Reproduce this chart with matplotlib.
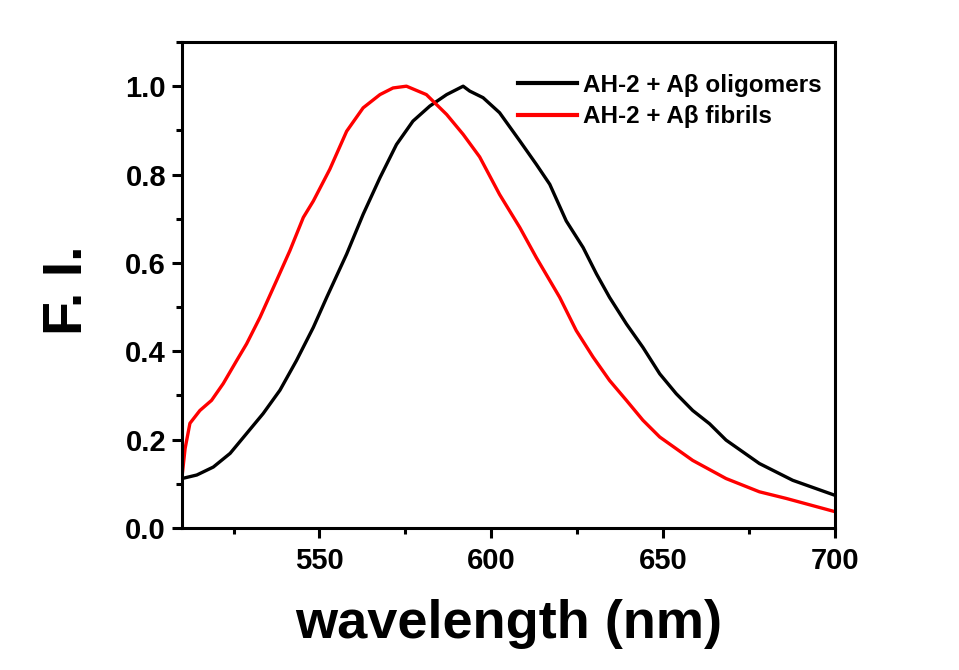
import matplotlib
matplotlib.use("Agg")
import matplotlib.pyplot as plt
from matplotlib.ticker import MultipleLocator, FormatStrFormatter

# spectra (wavelength nm, normalised intensity)
wl_olig = [510, 514.3, 519.1, 524, 528.8, 533.6, 538.5, 543.3, 548.2, 552.1, 557.9,
           562.7, 567.6, 572.4, 577.2, 582.1, 587, 591.8, 593.7, 597.6, 602.4, 608.3,
           613.1, 617, 621.8, 626.7, 630.6, 634.4, 639.3, 644.1, 649, 653.8, 658.6,
           663.5, 668.3, 678, 687.7, 700]
fi_olig = [0.112, 0.12, 0.138, 0.169, 0.214, 0.259, 0.312, 0.379, 0.454, 0.522, 0.62,
           0.71, 0.793, 0.868, 0.921, 0.955, 0.981, 1.0, 0.989, 0.974, 0.94, 0.876,
           0.823, 0.778, 0.695, 0.635, 0.575, 0.522, 0.462, 0.409, 0.349, 0.304, 0.266,
           0.236, 0.199, 0.146, 0.108, 0.074]

wl_fib = [510, 510.9, 512.3, 515.2, 518.6, 522, 525.9, 528.8, 532.7, 537.5, 541.4,
          545.3, 548.2, 553, 557.9, 562.7, 567.6, 571.4, 575.3, 581.1, 587, 591.8,
          596.6, 602.4, 608.3, 613.1, 619.9, 624.7, 629.6, 634.4, 639.3, 644.1, 649,
          658.6, 668.3, 678, 685.8, 700]
fi_fib = [0.116, 0.18, 0.237, 0.266, 0.289, 0.327, 0.379, 0.417, 0.477, 0.56, 0.628,
          0.703, 0.74, 0.812, 0.898, 0.951, 0.981, 0.996, 1.0, 0.981, 0.936, 0.891,
          0.84, 0.755, 0.68, 0.612, 0.522, 0.447, 0.387, 0.334, 0.289, 0.244, 0.206,
          0.153, 0.112, 0.082, 0.067, 0.037]

labels = ["AH-2 + A\u03b2 oligomers", "AH-2 + A\u03b2 fibrils"]

plt.rcParams['font.family'] = ['Liberation Sans', 'DejaVu Sans']
plt.rcParams['font.weight'] = 'bold'

fig = plt.figure(figsize=(9.59, 6.70), dpi=100)
ax = fig.add_axes([0.1898, 0.2119, 0.6809, 0.7254])

ax.plot(wl_olig, fi_olig, color='black', lw=2.4, label=labels[0], solid_joinstyle='round')
ax.plot(wl_fib, fi_fib, color='#ff0000', lw=2.4, label=labels[1], solid_joinstyle='round')

ax.set_xlim(510, 700)
ax.set_ylim(0, 1.1)
ax.xaxis.set_major_locator(MultipleLocator(50))
ax.xaxis.set_minor_locator(MultipleLocator(25))
ax.yaxis.set_major_locator(MultipleLocator(0.2))
ax.yaxis.set_minor_locator(MultipleLocator(0.1))
ax.yaxis.set_major_formatter(FormatStrFormatter('%.1f'))

for s in ax.spines.values():
    s.set_linewidth(2.2)
ax.tick_params(which='major', direction='out', length=7.5, width=2.2, labelsize=21)
ax.tick_params(which='minor', direction='out', length=4.5, width=2.2)
ax.tick_params(axis='x', pad=6)
ax.tick_params(axis='y', pad=4)
for t in ax.get_xticklabels() + ax.get_yticklabels():
    t.set_fontweight('bold')

ax.set_xlabel("wavelength (nm)", fontsize=39, fontweight='bold')
ax.set_ylabel("F. I.", fontsize=40, fontweight='bold')
ax.xaxis.set_label_coords(0.5, -0.147)
ax.yaxis.set_label_coords(-0.135, 0.49)

leg = ax.legend(loc='upper left', bbox_to_anchor=(0.5145, 0.935), frameon=False,
                handlelength=2.43, handletextpad=0.25, labelspacing=0.35,
                borderpad=0, borderaxespad=0,
                prop={'weight': 'bold', 'size': 17.5})
for h in leg.get_lines():
    h.set_linewidth(3)

fig.savefig("out.png", dpi=100, facecolor='white')
